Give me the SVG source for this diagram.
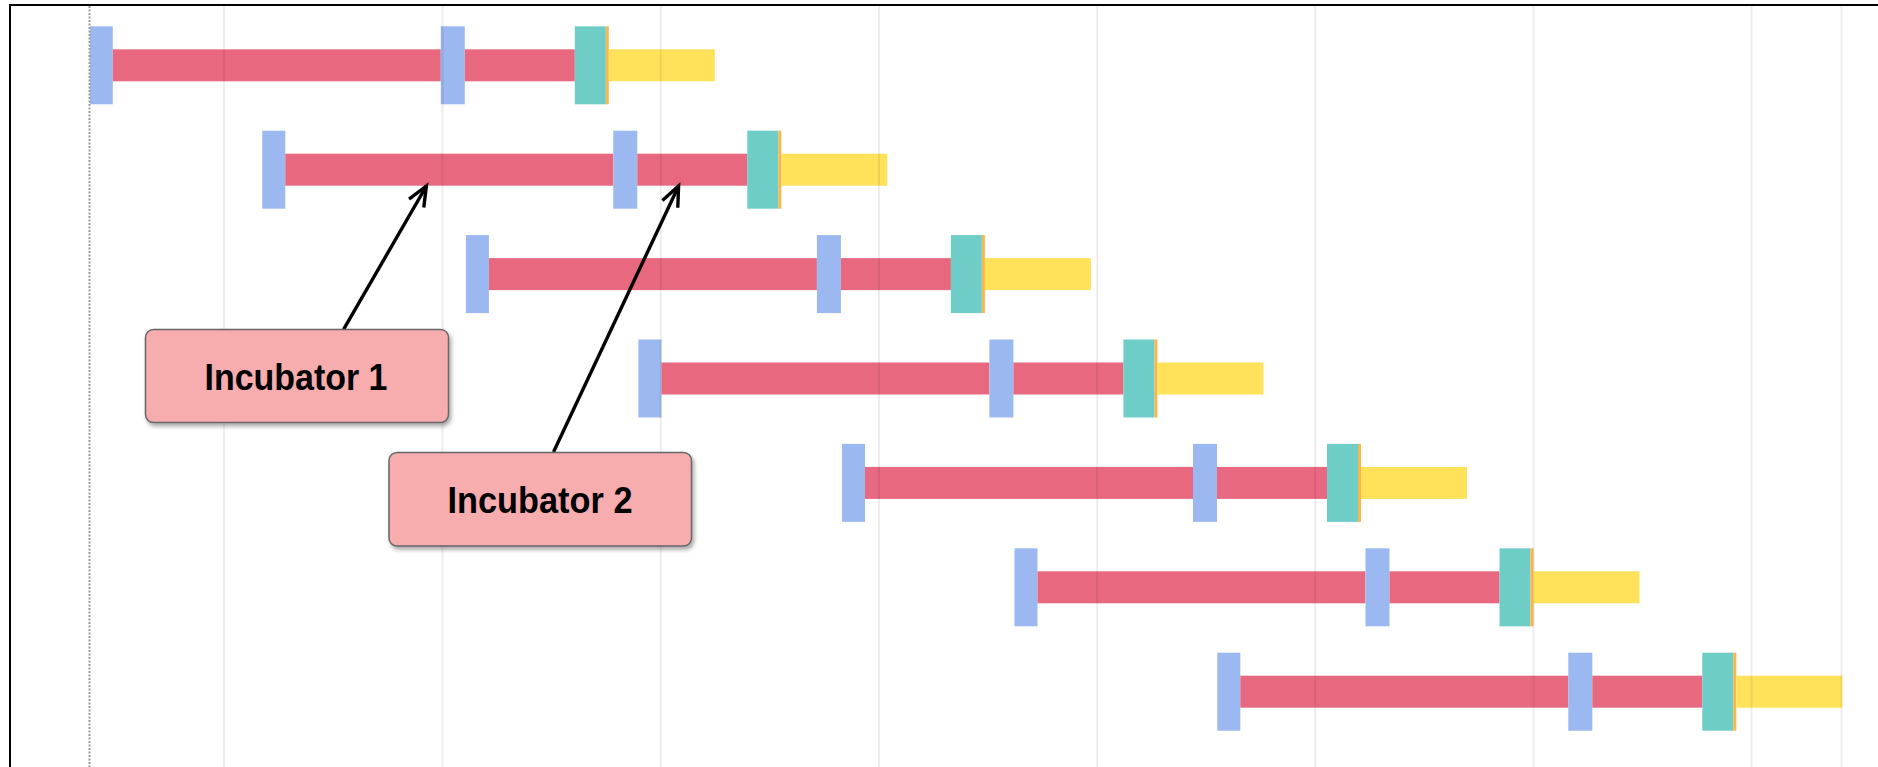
<svg xmlns="http://www.w3.org/2000/svg" width="1878" height="767" viewBox="0 0 1878 767">
  <style>
    .blue { fill: #9bb8f0; }
    .red { fill: #e8697f; }
    .teal { fill: #6fcdc7; }
    .orange { fill: #f9b64c; }
    .yellow { fill: #ffe25a; }
    .grid { stroke: #000; stroke-opacity: 0.07; stroke-width: 2; }
    .axis { stroke: #9a9a9a; stroke-width: 2; stroke-dasharray: 2 1.5; }
    .frame { stroke: #000; stroke-width: 2; fill: none; }
    .conn { stroke: #000; stroke-width: 3.4; fill: none; marker-end: url(#head); }
    .box { fill: #f7adad; stroke: #666; stroke-width: 1.5; filter: url(#shadow); }
    .label { font-family: "Liberation Sans", Arial, sans-serif; font-weight: bold; font-size: 36px; fill: #000; text-anchor: middle; }
  </style>
  <defs>
    <!-- one schedule row: start mark, first phase, mid mark, second phase, end mark, tail -->
    <g id="row">
      <rect class="blue" x="0" y="-39" width="23" height="78"/>
      <rect class="red" x="23" y="-16" width="328" height="32"/>
      <rect class="blue" x="351" y="-39" width="24" height="78"/>
      <rect class="red" x="375" y="-16" width="110" height="32"/>
      <rect class="teal" x="485" y="-39" width="31" height="78"/>
      <rect class="orange" x="516" y="-39" width="3" height="78"/>
      <rect class="yellow" x="519" y="-16" width="106" height="32"/>
    </g>
    <marker id="head" markerUnits="userSpaceOnUse" markerWidth="40" markerHeight="40" viewBox="-30 -20 40 40" refX="0" refY="0" orient="auto" overflow="visible">
      <path d="M-20,-8.5 L0,0 L-20,8.5" fill="none" stroke="#000" stroke-width="3.4" stroke-linejoin="miter"/>
    </marker>
    <filter id="shadow" x="-10%" y="-10%" width="125%" height="135%">
      <feDropShadow dx="2" dy="3" stdDeviation="2" flood-color="#000" flood-opacity="0.35"/>
    </filter>
  </defs>

  <rect width="1878" height="767" fill="#fff"/>

  <!-- schedule bars -->
  <g id="rows">
    <use id="row-1" href="#row" x="89.8" y="65.3"/>
    <use id="row-2" href="#row" x="262.3" y="169.7"/>
    <use id="row-3" href="#row" x="465.9" y="274.1"/>
    <use id="row-4" href="#row" x="638.4" y="378.5"/>
    <use id="row-5" href="#row" x="842" y="482.9"/>
    <use id="row-6" href="#row" x="1014.5" y="587.3"/>
    <use id="row-7" href="#row" x="1217.3" y="691.7"/>
  </g>

  <!-- time grid -->
  <g id="grid">
    <line class="grid" x1="224" y1="6" x2="224" y2="767"/>
    <line class="grid" x1="442.5" y1="6" x2="442.5" y2="767"/>
    <line class="grid" x1="660.8" y1="6" x2="660.8" y2="767"/>
    <line class="grid" x1="879" y1="6" x2="879" y2="767"/>
    <line class="grid" x1="1097.2" y1="6" x2="1097.2" y2="767"/>
    <line class="grid" x1="1315.2" y1="6" x2="1315.2" y2="767"/>
    <line class="grid" x1="1533.6" y1="6" x2="1533.6" y2="767"/>
    <line class="grid" x1="1751.5" y1="6" x2="1751.5" y2="767"/>
    <line class="grid" x1="1841.5" y1="6" x2="1841.5" y2="767"/>
    <line class="axis" x1="89.5" y1="6" x2="89.5" y2="767"/>
  </g>

  <!-- frame -->
  <path class="frame" d="M10,767 L10,5 L1878,5"/>

  <!-- connectors -->
  <g id="connectors">
    <line class="conn" x1="343.6" y1="329.4" x2="426.4" y2="186"/>
    <line class="conn" x1="553.5" y1="452" x2="678.6" y2="186"/>
  </g>

  <g id="incubator-1">
    <rect class="box" x="145.5" y="329.5" width="303" height="93" rx="8"/>
    <text class="label" x="296" y="389.5" textLength="183" lengthAdjust="spacingAndGlyphs">Incubator 1</text>
  </g>

  <g id="incubator-2">
    <rect class="box" x="389" y="452.5" width="302.5" height="93.5" rx="8"/>
    <text class="label" x="540" y="512.5" textLength="185" lengthAdjust="spacingAndGlyphs">Incubator 2</text>
  </g>
</svg>
